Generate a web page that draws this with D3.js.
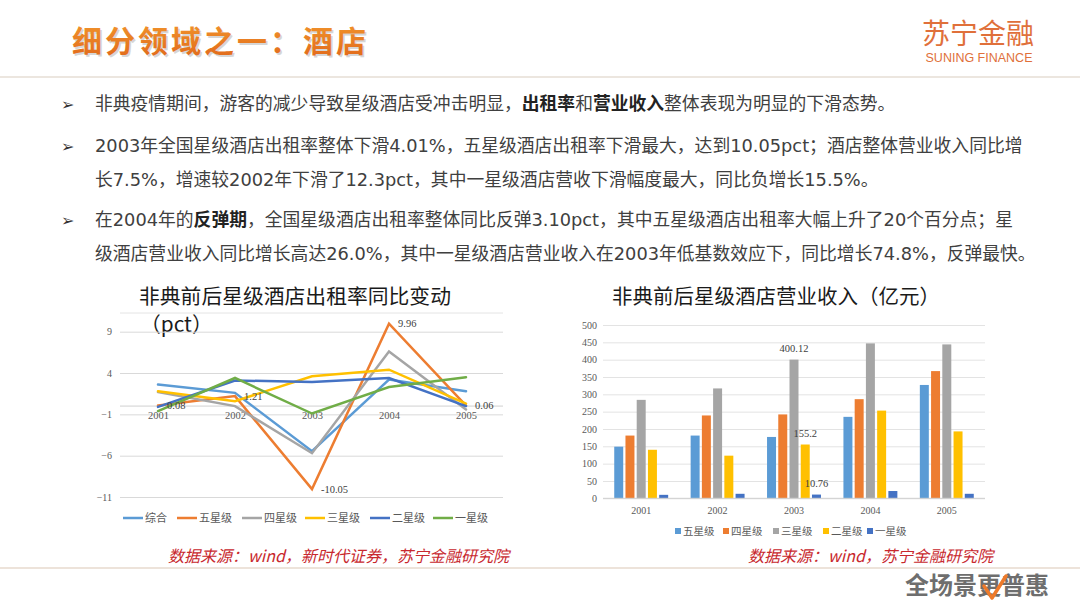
<!DOCTYPE html>
<html><head><meta charset="utf-8">
<script src="https://cdn.jsdelivr.net/npm/d3@7"></script>
<style>
body{margin:0;background:#fff;}
svg{display:block;}
</style></head>
<body>
<svg id="c" width="1080" height="608"></svg>
<script>
// ---------- data ----------
const years = ["2001","2002","2003","2004","2005"];
const occSeries = ["综合","五星级","四星级","三星级","二星级","一星级"];
const occ综合 = [2.6, 1.6, -5.45, 3.2, 1.8];
const occ五星级 = [0.08, 1.21, -10.05, 9.96, 0.06];
const occ四星级 = [1.7, 0.0, -5.7, 6.6, -0.4];
const occ三星级 = [1.8, 0.6, 3.6, 4.4, 0.3];
const occ二星级 = [-0.1, 3.1, 2.9, 3.4, 0.0];
const occ一星级 = [-0.6, 3.4, -0.9, 2.3, 3.5];
const occTicks = [9, 4, -1, -6, -11];
const occLabels = [[0,0.08,"0.08"],[1,1.21,"1.21"],[2,-10.05,"-10.05"],[3,9.96,"9.96"],[4,0.06,"0.06"]];

const revSeries = ["五星级","四星级","三星级","二星级","一星级"];
const rev五星级 = [149, 181, 177, 235, 327];
const rev四星级 = [181, 239, 242, 286, 367];
const rev三星级 = [284, 317, 400.12, 447, 444];
const rev二星级 = [140, 123, 155.2, 253, 193];
const rev一星级 = [10, 13, 10.76, 21, 13];
const revTicks = [0,50,100,150,200,250,300,350,400,450,500];
const revLabels = [[2,"三星级","400.12"],[2,"二星级","155.2"],[2,"一星级","10.76"]];

const bullets = [
  {y:104, m:true, parts:[["非典疫情期间，游客的减少导致星级酒店受冲击明显，",0],["出租率",1],["和",0],["营业收入",1],["整体表现为明显的下滑态势。",0]]},
  {y:146, m:true, parts:[["2003年全国星级酒店出租率整体下滑4.01%，五星级酒店出租率下滑最大，达到10.05pct；酒店整体营业收入同比增",0]]},
  {y:180, m:false, parts:[["长7.5%，增速较2002年下滑了12.3pct，其中一星级酒店营收下滑幅度最大，同比负增长15.5%。",0]]},
  {y:220, m:true, parts:[["在2004年的",0],["反弹期",1],["，全国星级酒店出租率整体同比反弹3.10pct，其中五星级酒店出租率大幅上升了20个百分点；星",0]]},
  {y:254, m:false, parts:[["级酒店营业收入同比增长高达26.0%，其中一星级酒店营业收入在2003年低基数效应下，同比增长74.8%，反弹最快。",0]]}
];

// ---------- drawing ----------
const svg = d3.select("#c");
const CJK = "'Noto Sans CJK SC','Microsoft YaHei',sans-serif";
const TXT = "'DejaVu Sans','Noto Sans CJK SC','Microsoft YaHei',sans-serif";
const SERIF = "'Liberation Serif','Times New Roman',serif";
svg.append("rect").attr("width",1080).attr("height",608).attr("fill","#fff");

// header
svg.append("text").attr("x",73.5).attr("y",53.5).text("细分领域之一：酒店")
  .attr("font-family",CJK).attr("font-weight",700).attr("font-size",30).attr("letter-spacing",3)
  .attr("fill","#bbb").attr("opacity",0.6);
const tg = svg.append("defs").append("linearGradient").attr("id","tg").attr("x1",0).attr("y1",0).attr("x2",0).attr("y2",1);
tg.append("stop").attr("offset","0%").attr("stop-color","#F39A2E");
tg.append("stop").attr("offset","100%").attr("stop-color","#E0661A");
svg.append("text").attr("x",72).attr("y",52).text("细分领域之一：酒店")
  .attr("font-family",CJK).attr("font-weight",700).attr("font-size",30).attr("letter-spacing",3)
  .attr("fill","url(#tg)");
svg.append("text").attr("x",978).attr("y",44).attr("text-anchor","middle").text("苏宁金融")
  .attr("font-family",CJK).attr("font-weight",400).attr("font-size",28).attr("fill","#E0703A");
svg.append("text").attr("x",979).attr("y",62).attr("text-anchor","middle").text("SUNING FINANCE")
  .attr("font-family","'Liberation Sans',Arial,sans-serif").attr("font-size",12.5).attr("fill","#E0703A");
svg.append("line").attr("x1",0).attr("x2",1080).attr("y1",77).attr("y2",77).attr("stroke","#E6DED5").attr("stroke-width",1.5);

// bullets
bullets.forEach(b=>{
  if(b.m) svg.append("text").attr("x",61).attr("y",b.y+6).text("➢")
    .attr("font-family","'DejaVu Sans',sans-serif").attr("font-size",16).attr("fill","#333");
  const t = svg.append("text").attr("x",95).attr("y",b.y+6)
    .attr("font-family",TXT).attr("font-size",17.8).attr("fill","#404040");
  b.parts.forEach(p=>t.append("tspan").text(p[0]).attr("font-weight",p[1]?700:400).attr("fill",p[1]?"#222":"#404040"));
});

// ---------- left chart ----------
const occData = {"综合":occ综合,"五星级":occ五星级,"四星级":occ四星级,"三星级":occ三星级,"二星级":occ二星级,"一星级":occ一星级};
const occColor = d3.scaleOrdinal().domain(occSeries).range(["#5B9BD5","#ED7D31","#A5A5A5","#FFC000","#4472C4","#70AD47"]);
const lx = d3.scalePoint().domain(years).range([158,466]);
const ly = d3.scaleLinear().domain([-11,9]).range([497,331.7]);
const L = svg.append("g");
L.append("text").attr("x",139).attr("y",304).text("非典前后星级酒店出租率同比变动")
  .attr("font-family",CJK).attr("font-size",20.8).attr("fill","#1a1a1a");
L.append("text").attr("x",140).attr("y",332).text("（pct）")
  .attr("font-family",CJK).attr("font-size",20.8).attr("fill","#1a1a1a");
L.append("line").attr("x1",120).attr("x2",503).attr("y1",313).attr("y2",313).attr("stroke","#E4E4E4");
const lyAxis = d3.axisLeft(ly).tickValues(occTicks).tickSize(-(503-120)).tickFormat(d3.format("d"));
const lya = L.append("g").attr("transform","translate(120,0)").call(lyAxis);
lya.select(".domain").remove();
lya.selectAll(".tick line").attr("stroke","#D9D9D9");
lya.selectAll(".tick text").attr("x",-8).attr("font-family",SERIF).attr("font-size",10).attr("fill","#595959");
// x axis at 0
L.append("line").attr("x1",120).attr("x2",503).attr("y1",ly(0)).attr("y2",ly(0)).attr("stroke","#D0D0D0");
const lxAxis = d3.axisBottom(lx).tickSize(0);
const lxa = L.append("g").attr("transform",`translate(0,${ly(0)})`).call(lxAxis);
lxa.select(".domain").remove();
lxa.selectAll(".tick text").attr("dy","0.3em").attr("y",10).attr("font-family",SERIF).attr("font-size",10.5).attr("fill","#595959");
const line = d3.line().x((d,i)=>lx(years[i])).y(d=>ly(d));
occSeries.forEach(s=>{
  L.append("path").attr("d",line(occData[s])).attr("fill","none").attr("stroke",occColor(s))
    .attr("stroke-width",2.5).attr("stroke-linejoin","miter").attr("stroke-linecap","round");
});
occLabels.forEach(([i,v,t])=>{
  L.append("text").attr("x",lx(years[i])+9).attr("y",ly(v)).attr("dy","0.35em").text(t)
    .attr("font-family",SERIF).attr("font-size",10.5).attr("fill","#404040");
});
// legend
const legX = [123,177,242,305,370,433];
occSeries.forEach((s,i)=>{
  L.append("line").attr("x1",legX[i]).attr("x2",legX[i]+20).attr("y1",518).attr("y2",518)
    .attr("stroke",occColor(s)).attr("stroke-width",2.5);
  L.append("text").attr("x",legX[i]+22).attr("y",518).attr("dy","0.35em").text(s)
    .attr("font-family",CJK).attr("font-size",11).attr("fill","#595959");
});

// ---------- right chart ----------
const revData = {"五星级":rev五星级,"四星级":rev四星级,"三星级":rev三星级,"二星级":rev二星级,"一星级":rev一星级};
const revColor = d3.scaleOrdinal().domain(revSeries).range(["#5B9BD5","#ED7D31","#A5A5A5","#FFC000","#4472C4"]);
const rx0 = d3.scaleBand().domain(years).range([603,985]);
const rx1 = d3.scaleBand().domain(revSeries).range([0,rx0.bandwidth()]).paddingInner(0.2).paddingOuter(1.0);
const ry = d3.scaleLinear().domain([0,500]).range([498.3,325]);
const R = svg.append("g");
R.append("text").attr("x",612).attr("y",304).text("非典前后星级酒店营业收入（亿元）")
  .attr("font-family",CJK).attr("font-size",20.5).attr("fill","#1a1a1a");
const ryAxis = d3.axisLeft(ry).tickValues(revTicks).tickSize(-(985-603));
const rya = R.append("g").attr("transform","translate(603,0)").call(ryAxis);
rya.select(".domain").remove();
rya.selectAll(".tick line").attr("stroke","#E3E3E3");
rya.selectAll(".tick text").attr("x",-6).attr("font-family",SERIF).attr("font-size",10).attr("fill","#595959");
years.forEach((y,yi)=>{
  revSeries.forEach(s=>{
    const v = revData[s][yi];
    R.append("rect").attr("x",rx0(y)+rx1(s)).attr("width",rx1.bandwidth())
      .attr("y",ry(v)).attr("height",ry(0)-ry(v)).attr("fill",revColor(s));
  });
});
R.append("line").attr("x1",603).attr("x2",985).attr("y1",ry(0)).attr("y2",ry(0)).attr("stroke","#CFCFCF");
const rxa = R.append("g").attr("transform",`translate(0,${ry(0)})`).call(d3.axisBottom(rx0).tickSize(0));
rxa.select(".domain").remove();
rxa.selectAll(".tick text").attr("y",9).attr("font-family",SERIF).attr("font-size",10).attr("fill","#595959");
revLabels.forEach(([yi,s,t])=>{
  const v = revData[s][yi];
  R.append("text").attr("x",rx0(years[yi])+rx1(s)+rx1.bandwidth()/2).attr("y",ry(v)-8)
    .attr("text-anchor","middle").text(t)
    .attr("font-family",SERIF).attr("font-size",10.5).attr("fill","#404040");
});
const rlegX = [675,723,773,823,867];
revSeries.forEach((s,i)=>{
  R.append("rect").attr("x",rlegX[i]).attr("y",528).attr("width",6).attr("height",6).attr("fill",revColor(s));
  R.append("text").attr("x",rlegX[i]+8).attr("y",531).attr("dy","0.35em").text(s)
    .attr("font-family",CJK).attr("font-size",10.5).attr("fill","#595959");
});

// ---------- footer ----------
svg.append("text").attr("x",168).attr("y",562).text("数据来源：wind，新时代证券，苏宁金融研究院")
  .attr("font-family",CJK).attr("font-style","italic").attr("font-size",16).attr("fill","#C8282E");
svg.append("text").attr("x",748).attr("y",562).text("数据来源：wind，苏宁金融研究院")
  .attr("font-family",CJK).attr("font-style","italic").attr("font-size",16).attr("fill","#C8282E");
svg.append("line").attr("x1",0).attr("x2",1080).attr("y1",568).attr("y2",568).attr("stroke","#EDE3DA").attr("stroke-width",2);
svg.append("text").attr("x",905).attr("y",594).text("全场景更普惠")
  .attr("font-family",CJK).attr("font-weight",700).attr("font-size",24).attr("fill","#6E6E6E");
svg.append("path").attr("d","M984,586 L992,598 L1006,576").attr("fill","none")
  .attr("stroke","#EE7A2A").attr("stroke-width",3.5).attr("stroke-linecap","round").attr("stroke-linejoin","round");
</script>
</body></html>
